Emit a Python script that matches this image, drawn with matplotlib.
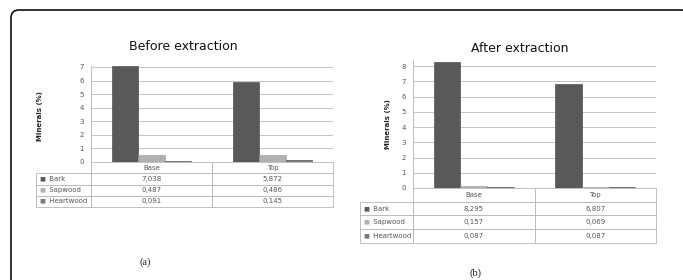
"""Minerals content before and after extraction (two panels with data tables)."""
import matplotlib
matplotlib.use("Agg")
import matplotlib.pyplot as plt
from matplotlib.patches import FancyBboxPatch
from matplotlib.transforms import Affine2D
import numpy as np

W, H = 683, 280

categories = ["Base", "Top"]
series = ["Bark", "Sapwood", "Heartwood"]
colors = ["#595959", "#b0b0b0", "#7a7a7a"]

before_bark = [7.038, 5.872]
before_sapwood = [0.487, 0.486]
before_heartwood = [0.091, 0.145]

after_bark = [8.295, 6.807]
after_sapwood = [0.157, 0.069]
after_heartwood = [0.087, 0.087]

before_ticks = list(range(0, 8))
after_ticks = list(range(0, 9))

TXT = "#555555"

fig = plt.figure(figsize=(W / 100, H / 100), dpi=100)
px = Affine2D().scale(1 / W, -1 / H).translate(0, 1) + fig.transFigure

# rounded outer frame (runs off the right and bottom edges)
frame = FancyBboxPatch((11, 10), 678, 320, boxstyle="round,pad=0,rounding_size=8",
                       transform=px, facecolor="none", edgecolor="#111111", linewidth=1.2)
fig.patches.append(frame)


def fmt(v):
    return f"{v:.3f}".replace(".", ",")


def panel(x0, x1, y_zero, y_top, ymax, ticks, data, title, title_xy,
          ylabel_xy, tab_left, tab_bottom, letter, letter_xy):
    ax = fig.add_axes([x0 / W, 1 - y_zero / H, (x1 - x0) / W, (y_zero - y_top) / H])
    x = np.arange(len(categories))
    width = 0.22
    for i, (vals, col) in enumerate(zip(data, colors)):
        edge = "#3a3a3a" if i != 1 else "#999999"
        ax.bar(x + (i - 1) * width, vals, width, color=col, edgecolor=edge,
               linewidth=0.4, zorder=3)
    ax.set_xlim(-0.5, len(categories) - 0.5)
    ax.set_ylim(0, ymax)
    ax.set_yticks(ticks)
    ax.set_yticklabels([str(t) for t in ticks], fontsize=5, color=TXT)
    ax.tick_params(axis="y", length=0, pad=5)
    ax.set_xticks([])
    ax.grid(axis="y", color="#c4c4c4", linewidth=0.7, zorder=0)
    for s in ["top", "right", "bottom"]:
        ax.spines[s].set_visible(False)
    ax.spines["left"].set_color("#bdbdbd")
    ax.spines["left"].set_linewidth(0.7)

    # data table below the plot area
    def to_ax(px_x, px_y):
        return (px_x - x0) / (x1 - x0), (y_zero - px_y) / (y_zero - y_top)

    bx0, by0 = to_ax(tab_left, tab_bottom)
    rows = [["     " + s] + [fmt(v) for v in vals] for s, vals in zip(series, data)]
    tab = ax.table(cellText=rows, colLabels=[""] + categories,
                   colWidths=[x0 - tab_left, (x1 - x0) / 2, (x1 - x0) / 2],
                   cellLoc="center", bbox=[bx0, by0, 1 - bx0, -by0])
    tab.auto_set_font_size(False)
    tab.set_fontsize(5)
    for (r, c), cell in tab.get_celld().items():
        cell.set_edgecolor("#b5b5b5")
        cell.set_linewidth(0.6)
        cell.get_text().set_color(TXT)
        if c == 0:
            cell.get_text().set_ha("left")
            cell._loc = "left"
            cell.PAD = 0.04
    tab[0, 0].set_edgecolor("none")

    row_h = (tab_bottom - y_zero) / 4
    for i, col in enumerate(colors):
        yc = y_zero + row_h * (i + 1.5)
        fig.text(tab_left + 3, yc, "\u25A0", transform=px, fontsize=4.5,
                 color=col, ha="left", va="center")

    fig.text(title_xy[0], title_xy[1], title, transform=px, fontsize=9,
             color="#111111", ha="center", va="center")
    fig.text(ylabel_xy[0], ylabel_xy[1], "Minerals (%)", transform=px, fontsize=5,
             fontweight="bold", rotation=90, ha="center", va="center", color="#222222")
    fig.text(letter_xy[0], letter_xy[1], letter, transform=px, fontsize=7.5,
             family="Liberation Serif", ha="center", va="center", color="#222222")
    return ax


panel(91, 333, 162, 65.6, 7.1, before_ticks,
      [before_bark, before_sapwood, before_heartwood],
      "Before extraction", (183, 47), (40, 116), 36, 207, "(a)", (145, 262))

panel(413, 656, 188, 59.9, 8.4, after_ticks,
      [after_bark, after_sapwood, after_heartwood],
      "After extraction", (520, 49), (388, 124), 360, 243, "(b)", (475, 273))

fig.savefig("out.png", dpi=100, facecolor="white")
